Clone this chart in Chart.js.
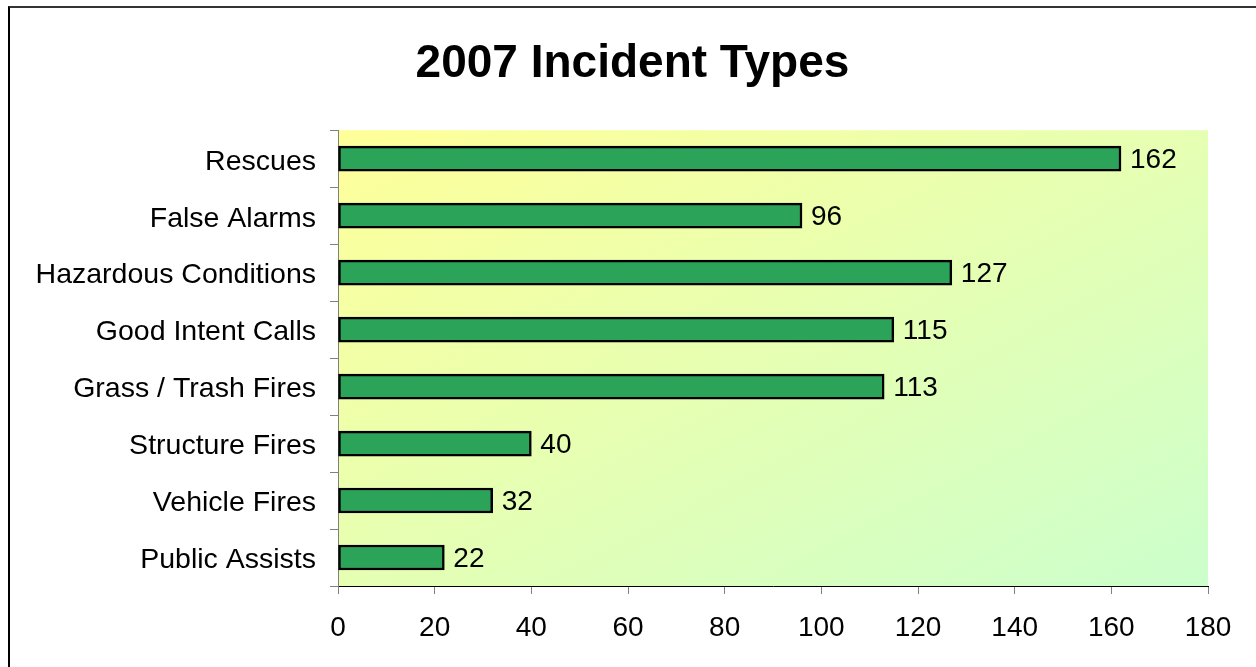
<!DOCTYPE html>
<html>
<head>
<meta charset="utf-8">
<script src="https://cdn.jsdelivr.net/npm/chart.js@4/dist/chart.umd.min.js"></script>
<style>
  html, body { margin: 0; padding: 0; background: #fff; overflow: hidden; }
  #wrap { position: relative; width: 1256px; height: 667px; }
  #frame { position: absolute; left: 8px; top: 6px; width: 1300px; height: 700px;
           border-left: 2px solid #000; border-top: 2px solid #333; box-sizing: border-box; pointer-events: none; }
  canvas { position: absolute; left: 0; top: 0; }
</style>
</head>
<body>
<div id="wrap">
  <div id="frame"></div>
  <canvas id="c" width="1256" height="667"></canvas>
</div>
<script>
const titleText = "2007 Incident Types";
const categories = ["Rescues", "False Alarms", "Hazardous Conditions", "Good Intent Calls",
                    "Grass / Trash Fires", "Structure Fires", "Vehicle Fires", "Public Assists"];
const incidents = [162, 96, 127, 115, 113, 40, 32, 22];
const xMin = 0, xMax = 180, xStep = 20;

const FONT = "'Liberation Sans', Arial, sans-serif";

const bgPlugin = {
  id: 'bgGrad',
  beforeDraw(chart) {
    const {ctx, chartArea: a} = chart;
    const w = a.right - a.left, h = a.bottom - a.top;
    const k = 2 * w * h / (w * w + h * h);
    const g = ctx.createLinearGradient(a.left, a.top, a.left + k * h, a.top + k * w);
    g.addColorStop(0, '#FFFF99');
    g.addColorStop(1, '#CCFFCC');
    ctx.save();
    ctx.fillStyle = g;
    ctx.fillRect(a.left, a.top, w, h);
    ctx.restore();
  }
};

const titleCenter = {
  id: 'titleCenter',
  afterLayout(chart) {
    const tb = chart.titleBlock;
    if (tb) { tb.left = 0; tb.right = 1265; tb.width = 1265; }
  }
};

const valuePlugin = {
  id: 'values',
  afterDatasetsDraw(chart) {
    const {ctx} = chart;
    const meta = chart.getDatasetMeta(0);
    ctx.save();
    ctx.font = "28px " + FONT;
    ctx.fillStyle = '#000';
    ctx.textAlign = 'left';
    ctx.textBaseline = 'middle';
    meta.data.forEach((bar, i) => {
      ctx.fillText(String(chart.data.datasets[0].data[i]), bar.x + 9, bar.y + 2);
    });
    ctx.restore();
  }
};

new Chart(document.getElementById('c'), {
  type: 'bar',
  data: {
    labels: categories,
    datasets: [{
      data: incidents,
      backgroundColor: '#2BA45A',
      borderColor: '#000',
      borderWidth: 2.5,
      borderSkipped: false,
      barThickness: 25
    }]
  },
  options: {
    indexAxis: 'y',
    responsive: false,
    animation: false,
    layout: { padding: { left: 9, right: 48, top: 0, bottom: 0 } },
    plugins: {
      legend: { display: false },
      tooltip: { enabled: false },
      title: {
        display: true,
        text: titleText,
        color: '#000',
        font: { family: FONT, size: 46, weight: 'bold', lineHeight: 1.2 },
        padding: { top: 37, bottom: 38 }
      }
    },
    scales: {
      x: {
        min: xMin, max: xMax,
        ticks: { stepSize: xStep, color: '#000', font: { family: FONT, size: 28 }, padding: 17 },
        grid: { drawOnChartArea: false, drawTicks: true, tickLength: 8, color: '#808080' },
        border: { color: '#000', width: 1 },
        afterFit(s) { s.height = 81; }
      },
      y: {
        ticks: { color: '#000', font: { family: FONT, size: 28.5 }, padding: 14, labelOffset: 3 },
        grid: { drawOnChartArea: false, drawTicks: true, tickLength: 8, color: '#808080', offset: true },
        border: { color: '#808080', width: 1 },
        afterFit(s) { s.width = 329; }
      }
    }
  },
  plugins: [bgPlugin, titleCenter, valuePlugin]
});
</script>
</body>
</html>
